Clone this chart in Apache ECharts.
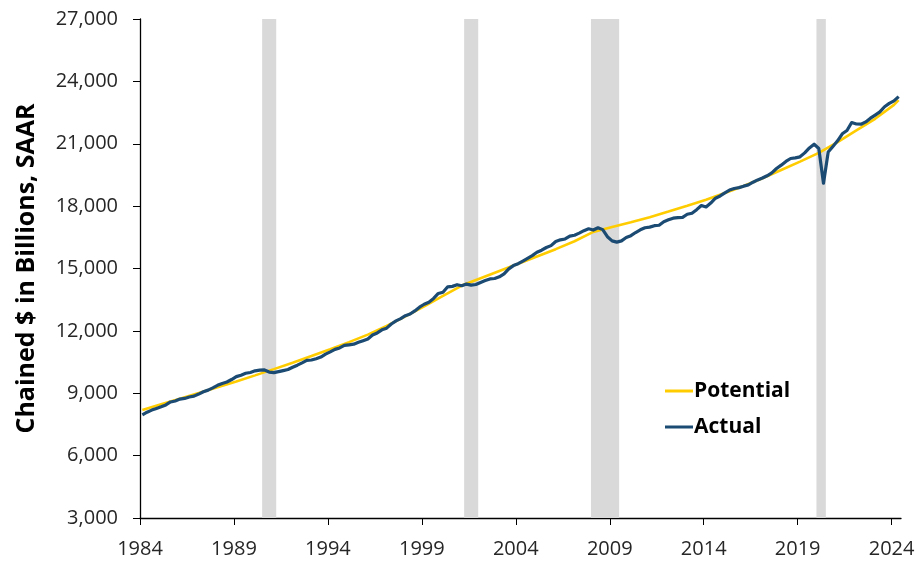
<!DOCTYPE html>
<html>
<head>
<meta charset="utf-8">
<script src="https://cdn.jsdelivr.net/npm/echarts@6/dist/echarts.min.js"></script>
<style>
  html, body { margin: 0; padding: 0; background: #fff; }
  #main { width: 919px; height: 563px; }
</style>
</head>
<body>
<div id="main"></div>
<script>
// quarterly real GDP, 1984Q1 onwards (billions, chained $)
const firstYear = 1984;
const actual = [
  7960, 8090, 8190, 8270,
  8350, 8440, 8580, 8630,
  8720, 8750, 8820, 8860,
  8960, 9070, 9150, 9260,
  9380, 9470, 9540, 9660,
  9800, 9870, 9960, 10000,
  10080, 10110, 10120, 10020,
  9990, 10040, 10090, 10140,
  10250, 10350, 10460, 10580,
  10600, 10660, 10740, 10880,
  10990, 11110, 11180, 11300,
  11330, 11360, 11450, 11530,
  11610, 11800, 11900, 12050,
  12130, 12330, 12480, 12590,
  12730, 12810, 12960, 13140,
  13280, 13380, 13560, 13800,
  13860, 14120, 14140, 14220,
  14170, 14250, 14200, 14230,
  14330, 14420, 14500, 14520,
  14600, 14740, 14980, 15140,
  15230, 15360, 15490, 15620,
  15780, 15880, 16010, 16100,
  16300, 16380, 16420, 16560,
  16600, 16700, 16820, 16910,
  16850, 16960, 16870, 16530,
  16330, 16270, 16330, 16490,
  16580, 16730, 16860, 16960,
  16990, 17060, 17080, 17250,
  17340, 17420, 17450, 17460,
  17610, 17660, 17830, 18030,
  17960, 18150, 18380, 18490,
  18640, 18770, 18850, 18890,
  18960, 19020, 19150, 19260,
  19350, 19460, 19600, 19810,
  19970, 20150, 20290, 20320,
  20370, 20560, 20800, 20980,
  20770, 19100, 20600, 20870,
  21140, 21480, 21640, 22020,
  21950, 21940, 22050, 22230,
  22380, 22530, 22780, 22940,
  23060, 23270
];

// potential GDP, first quarter of each year (plus the last quarter shown)
const potYears = [
  1984, 1985, 1986, 1987, 1988, 1989, 1990, 1991, 1992, 1993,
  1994, 1995, 1996, 1997, 1998, 1999, 2000, 2001, 2002, 2003,
  2004, 2005, 2006, 2007, 2008, 2009, 2010, 2011, 2012, 2013,
  2014, 2015, 2016, 2017, 2018, 2019, 2020, 2021, 2022, 2023,
  2024, 2024.25
];
const potential = [
  8200, 8470, 8740, 9010, 9290, 9570, 9860, 10160, 10470, 10790,
  11120, 11460, 11820, 12240, 12700, 13180, 13680, 14180, 14530, 14880,
  15230, 15580, 15930, 16310, 16760, 17000, 17220, 17470, 17740, 18020,
  18310, 18630, 18970, 19340, 19740, 20140, 20560, 21080, 21640, 22200,
  22870, 23100
];

// recessions (start, end)
const recessions = [
  [1990.5, 1991.25],
  [2001.25, 2002.0],
  [2008.0, 2009.5],
  [2020.0, 2020.5]
];

const xTicks = [1984, 1989, 1994, 1999, 2004, 2009, 2014, 2019, 2024];
const yTicks = [3000, 6000, 9000, 12000, 15000, 18000, 21000, 24000, 27000];
const lastYear = 2024.5;

// points sit in the middle of their quarter
const toX = (yr) => yr - firstYear + 0.125;
const actualData = actual.map((v, i) => [toX(firstYear + i * 0.25), v]);
const potentialData = potential.map((v, i) => [toX(potYears[i]), v]);

const font = "'Open Sans', 'Noto Sans', sans-serif";
const myChart = echarts.init(document.getElementById("main"));

const option = {
  backgroundColor: "#fff",
  animation: false,
  grid: {
    left: 140,
    right: 18,
    top: 19,
    bottom: 45,
    containLabel: false,
  },
  legend: {
    orient: "vertical",
    left: 660,
    top: 374,
    itemGap: 12,
    itemWidth: 28,
    itemHeight: 3,
    icon: "rect",
    data: ["Potential", "Actual"],
    textStyle: {
      fontFamily: font,
      fontSize: 21,
      fontWeight: "bold",
      color: "#000",
      lineHeight: 24,
      padding: [0, 0, 0, -4],
    },
  },
  xAxis: {
    type: "value",
    min: 0,
    max: lastYear - firstYear,
    interval: 5,
    axisLine: { show: true, lineStyle: { color: "#000", width: 1.3 } },
    axisTick: {
      show: true,
      length: 7,
      lineStyle: { color: "#000" },
      customValues: xTicks.map((t) => t - firstYear),
    },
    axisLabel: {
      fontFamily: font,
      fontSize: 20,
      color: "#262626",
      margin: 21,
      customValues: xTicks.map((t) => t - firstYear),
      formatter: (v) => String(Math.round(v + firstYear)),
    },
    splitLine: { show: false },
  },
  yAxis: {
    type: "value",
    min: yTicks[0],
    max: yTicks[yTicks.length - 1],
    interval: 3000,
    name: "Chained $ in Billions, SAAR",
    nameLocation: "middle",
    nameRotate: 90,
    nameGap: 101,
    nameTextStyle: {
      fontFamily: font,
      fontSize: 25,
      fontWeight: "bold",
      color: "#000",
    },
    axisLine: { show: true, lineStyle: { color: "#000", width: 1.3 } },
    axisTick: { show: true, length: 7, lineStyle: { color: "#000" } },
    axisLabel: {
      fontFamily: font,
      fontSize: 20,
      color: "#262626",
      margin: 22,
      formatter: (v) => v.toLocaleString("en-US"),
    },
    splitLine: { show: false },
  },
  series: [
    {
      // recession shading
      name: "Recession",
      type: "line",
      data: [],
      z: 1,
      silent: true,
      markArea: {
        silent: true,
        itemStyle: { color: "#d9d9d9" },
        data: recessions.map((r) => [
          { xAxis: r[0] - firstYear },
          { xAxis: r[1] - firstYear },
        ]),
      },
    },
    {
      name: "Potential",
      type: "line",
      data: potentialData,
      showSymbol: false,
      symbol: "none",
      z: 3,
      lineStyle: { color: "#ffcc00", width: 2.6 },
      itemStyle: { color: "#ffcc00" },
    },
    {
      name: "Actual",
      type: "line",
      data: actualData,
      showSymbol: false,
      symbol: "none",
      z: 4,
      lineStyle: { color: "#1b4a72", width: 3.2, join: "round" },
      itemStyle: { color: "#1b4a72" },
    },
  ],
};
myChart.setOption(option);
</script>
</body>
</html>
